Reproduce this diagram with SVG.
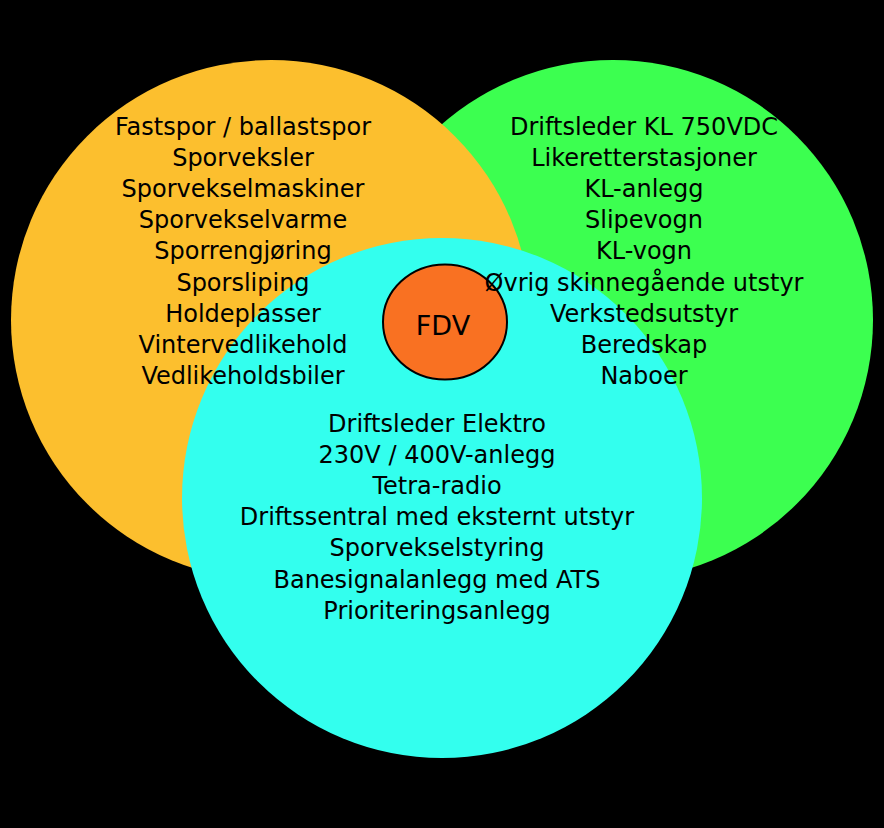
<svg xmlns="http://www.w3.org/2000/svg" width="884" height="828" viewBox="0 0 884 828">
<style>
.t{font-family:"DejaVu Sans","Liberation Sans",sans-serif;font-size:24px;fill:#000;text-anchor:middle}
.fdv{font-family:"DejaVu Sans","Liberation Sans",sans-serif;font-size:27px;fill:#000;text-anchor:middle}
</style>
<rect x="0" y="0" width="884" height="828" fill="#000"/>
<g id="green">
<circle cx="613" cy="320" r="260" fill="#3cff50"/>
</g>
<g id="orange">
<circle cx="271" cy="320" r="260" fill="#fcbf2e"/>
</g>
<g id="cyan">
<circle cx="442" cy="498" r="260" fill="#33ffee"/>
</g>
<g id="fdv">
<ellipse cx="445" cy="322" rx="62" ry="57.5" fill="#f97122" stroke="#000" stroke-width="2"/>
<text class="fdv" x="443" y="335">FDV</text>
</g>
<g id="orange-text">
<text class="t" x="243" y="135">Fastspor / ballastspor</text>
<text class="t" x="243" y="166.1">Sporveksler</text>
<text class="t" x="243" y="197.2">Sporvekselmaskiner</text>
<text class="t" x="243" y="228.3">Sporvekselvarme</text>
<text class="t" x="243" y="259.4">Sporrengjøring</text>
<text class="t" x="243" y="290.5">Sporsliping</text>
<text class="t" x="243" y="321.6">Holdeplasser</text>
<text class="t" x="243" y="352.7">Vintervedlikehold</text>
<text class="t" x="243" y="383.8">Vedlikeholdsbiler</text>
</g>
<g id="green-text">
<text class="t" x="644" y="135">Driftsleder KL 750VDC</text>
<text class="t" x="644" y="166.1">Likeretterstasjoner</text>
<text class="t" x="644" y="197.2">KL-anlegg</text>
<text class="t" x="644" y="228.3">Slipevogn</text>
<text class="t" x="644" y="259.4">KL-vogn</text>
<text class="t" x="644" y="290.5">Øvrig skinnegående utstyr</text>
<text class="t" x="644" y="321.6">Verkstedsutstyr</text>
<text class="t" x="644" y="352.7">Beredskap</text>
<text class="t" x="644" y="383.8">Naboer</text>
</g>
<g id="cyan-text">
<text class="t" x="437" y="432">Driftsleder Elektro</text>
<text class="t" x="437" y="463.1">230V / 400V-anlegg</text>
<text class="t" x="437" y="494.2">Tetra-radio</text>
<text class="t" x="437" y="525.3">Driftssentral med eksternt utstyr</text>
<text class="t" x="437" y="556.4">Sporvekselstyring</text>
<text class="t" x="437" y="587.5">Banesignalanlegg med ATS</text>
<text class="t" x="437" y="618.6">Prioriteringsanlegg</text>
</g>
</svg>
